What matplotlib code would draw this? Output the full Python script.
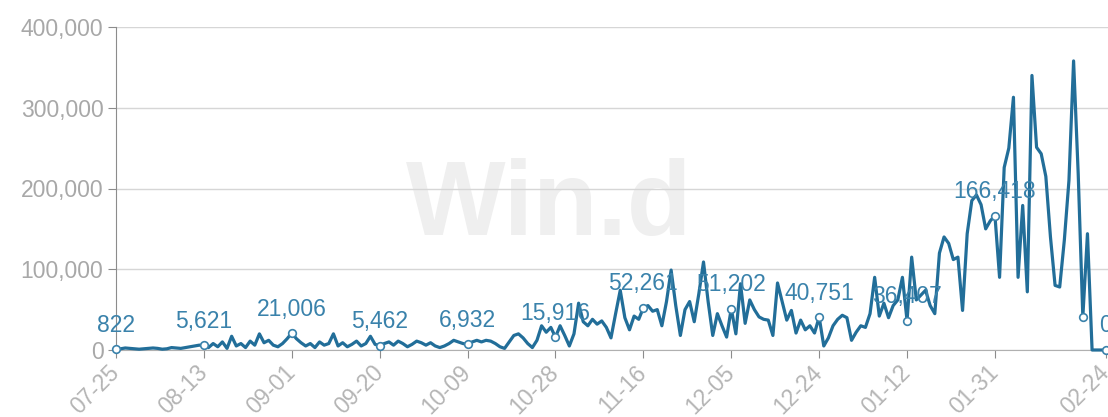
import matplotlib
matplotlib.use('Agg')
import matplotlib.pyplot as plt
import pandas as pd
from matplotlib.ticker import FuncFormatter

# ── Data (daily, 07-25 .. 02-24) ──────────────────────────────────────────────
values = [
    # 07-25 .. 08-12
    822, 1500, 2500, 2000, 1500, 1000, 1500, 2000, 2500, 2000,
    1000, 1500, 3000, 2500, 2000, 3000, 4000, 5000, 6000,
    # 08-13 .. 08-31
    5621, 3000, 8000, 4000, 10000, 2000, 17000, 5000, 8000, 3000,
    11000, 6000, 20000, 9000, 12000, 6000, 4000, 8000, 14000,
    # 09-01 .. 09-19
    21006, 14000, 9000, 5000, 8000, 3000, 10000, 6000, 8000, 20000,
    5000, 9000, 4000, 7000, 11000, 5000, 8000, 17000, 7000,
    # 09-20 .. 10-08
    5462, 8000, 10000, 6000, 11000, 8000, 4000, 7000, 11000, 9000,
    6000, 9000, 5000, 3000, 5000, 8000, 12000, 10000, 8000,
    # 10-09 .. 10-27
    6932, 10000, 12000, 10000, 12000, 11000, 8000, 4000, 2000, 10000,
    18000, 20000, 15000, 8000, 3000, 12000, 30000, 22000, 28000,
    # 10-28 .. 11-15
    15916, 30000, 18000, 5000, 20000, 58000, 35000, 30000, 38000, 32000,
    36000, 28000, 15000, 45000, 74000, 40000, 25000, 42000, 38000,
    # 11-16 .. 12-04
    52261, 55000, 48000, 50000, 30000, 60000, 99000, 55000, 18000, 50000,
    60000, 35000, 70000, 109000, 60000, 18000, 45000, 30000, 16000,
    # 12-05 .. 12-23
    51202, 20000, 82000, 33000, 62000, 50000, 41000, 38000, 37000, 18000,
    83000, 60000, 37000, 49000, 21000, 37000, 25000, 30000, 21000,
    # 12-24 .. 01-11
    40751, 5000, 15000, 30000, 38000, 43000, 40000, 12000, 22000, 30000,
    28000, 45000, 90000, 42000, 58000, 40000, 55000, 62000, 90000,
    # 01-12 .. 01-30
    36407, 115000, 62000, 68000, 74000, 55000, 45000, 120000, 140000, 132000,
    112000, 115000, 49000, 144000, 185000, 192000, 180000, 150000, 160000,
    # 01-31 .. 02-18
    166418, 90000, 226000, 250000, 313000, 90000, 179000, 72000, 340000, 251000,
    243000, 215000, 140000, 80000, 78000, 136000, 210000, 358000, 218000,
    # 02-19 .. 02-24
    41000, 144000, 0, 0, 0, 0,
]
dates = pd.date_range('2019-07-25', '2020-02-24', freq='D')
labelled = [0, 19, 38, 57, 76, 95, 114, 133, 152, 171, 190, 214]   # annotated points
markers = labelled[:-1] + [209, 214]                                 # 02-19 label hidden
tick_idx = [0, 19, 38, 57, 76, 95, 114, 133, 152, 171, 190, 214]

LINE = '#226e99'
LABEL = '#3a82ab'
GREY = '#a8a8a8'

fig = plt.figure(figsize=(11.08, 4.17), dpi=100)
ax = fig.add_axes([116 / 1108, 1 - 350 / 417, (1108 - 116) / 1108, (350 - 27) / 417])

x = list(range(len(values)))
ax.plot(x, values, color=LINE, lw=2.3, solid_joinstyle='round', zorder=3, clip_on=False)
ax.plot(markers, [values[i] for i in markers], 'o', ms=5.5, mfc='white', mec=LABEL,
        mew=1.2, zorder=4, clip_on=False)
for i in labelled:
    ax.annotate(f'{values[i]:,}', (i, values[i]), xytext=(0, 9), textcoords='offset points',
                ha='center', va='bottom', fontsize=16.5, color=LABEL, zorder=5,
                family='Liberation Sans', annotation_clip=False)

# watermark
ax.text(0.437, 0.44, 'Win.d', transform=ax.transAxes, ha='center', va='center',
        fontsize=76, fontweight='bold', color='#efefef', family='Liberation Sans', zorder=0)

ax.set_xlim(0, (1108 - 116) / 4.626)
ax.set_ylim(0, 400000)
ax.set_yticks([0, 100000, 200000, 300000, 400000])
ax.yaxis.set_major_formatter(FuncFormatter(lambda v, _: f'{int(v):,}'))
ax.set_xticks(tick_idx)
ax.set_xticklabels([dates[i].strftime('%m-%d') for i in tick_idx], rotation=45,
                   ha='right', va='center', rotation_mode='anchor')

ax.grid(axis='y', color='#d6d6d6', lw=1)
ax.set_axisbelow(True)
for s in ['top', 'right']:
    ax.spines[s].set_visible(False)
ax.spines['left'].set_color('#8c8c8c')
ax.spines['bottom'].set_color('#b0b0b0')
ax.tick_params(axis='y', colors='#8c8c8c', labelcolor=GREY, labelsize=16.5, length=6, pad=3)
ax.tick_params(axis='x', colors='#8c8c8c', labelcolor='#b4b4b4', labelsize=16.5, length=6, pad=8)
for t in ax.get_xticklabels() + ax.get_yticklabels():
    t.set_family('Liberation Sans')

plt.savefig('out.png', dpi=100)
